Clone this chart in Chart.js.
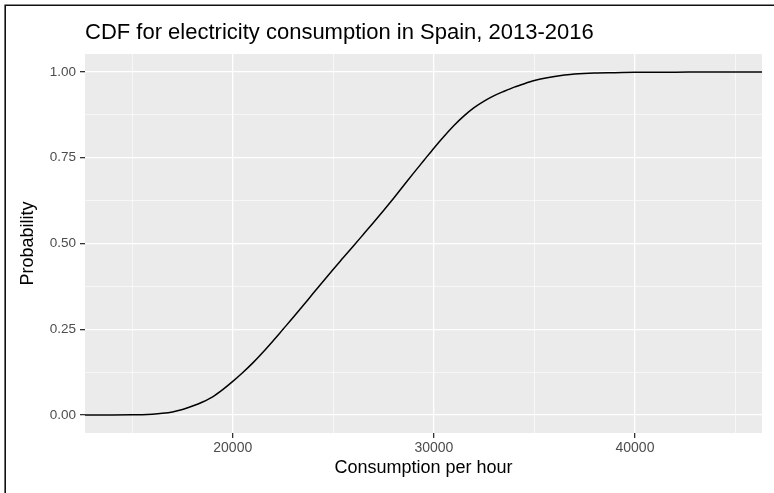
<!DOCTYPE html>
<html>
<head>
<meta charset="utf-8">
<script src="https://cdn.jsdelivr.net/npm/chart.js@4.4.0/dist/chart.umd.min.js"></script>
<style>
  html, body { margin: 0; padding: 0; background: #ffffff; }
  #wrap { width: 774px; height: 493px; position: relative; }
</style>
</head>
<body>
<div id="wrap"><canvas id="cdf_chart" width="774" height="493"></canvas></div>
<script>
const consumption = [
  12652, 14000, 15000, 15500, 16000, 16500, 17000, 17500, 18000, 18500,
  19000, 19500, 20000, 20500, 21000, 21500, 22000, 22500, 23000, 23500,
  24000, 24500, 25000, 25500, 26000, 26500, 27000, 27500, 28000, 28500,
  29000, 29500, 30000, 30500, 31000, 31500, 32000, 32500, 33000, 33500,
  34000, 34500, 35000, 35500, 36000, 36500, 37000, 38000, 39000, 40000,
  42000, 44000, 46318
];
const probability = [
  0, 0, 0.0004, 0.001, 0.0025, 0.005, 0.009, 0.016, 0.026, 0.038,
  0.053, 0.074, 0.098, 0.124, 0.152, 0.183, 0.216, 0.250, 0.284, 0.319,
  0.355, 0.390, 0.425, 0.459, 0.493, 0.527, 0.561, 0.596, 0.632, 0.669,
  0.706, 0.742, 0.778, 0.812, 0.844, 0.872, 0.896, 0.915, 0.931, 0.944,
  0.956, 0.966, 0.975, 0.982, 0.987, 0.991, 0.994, 0.997, 0.998, 0.999,
  0.9995, 1.0, 1.0
];
const xMajor = [20000, 30000, 40000];
const xMinor = [15000, 25000, 35000, 45000];
const yMajor = [0, 0.25, 0.5, 0.75, 1];
const yMinor = [0.125, 0.375, 0.625, 0.875];

const fontFamily = '"Liberation Sans", Arial, Helvetica, sans-serif';

const panelBg = {
    id: 'panelBg',
    beforeDraw(chart) {
        const { ctx, chartArea: a } = chart;
        ctx.save();
        ctx.fillStyle = '#ebebeb';
        ctx.fillRect(a.left, a.top, a.right - a.left, a.bottom - a.top);
        ctx.restore();
    },
    afterDraw(chart) {
        // frame from the screenshot (left and top edges)
        const ctx = chart.ctx;
        ctx.save();
        ctx.strokeStyle = '#111111';
        ctx.lineWidth = 1.6;
        ctx.beginPath();
        ctx.moveTo(5.2, 493);
        ctx.lineTo(5.2, 5.2);
        ctx.lineTo(774, 5.2);
        ctx.stroke();
        ctx.restore();
    }
};

const isMajor = (list, v) => list.some(m => Math.abs(m - v) < 1e-9);

const ctx = document.getElementById('cdf_chart').getContext('2d');
new Chart(ctx, {
    type: 'line',
    data: {
        datasets: [{
            data: consumption.map((c, i) => ({ x: c, y: probability[i] })),
            borderColor: '#000000',
            borderWidth: 1.5,
            pointRadius: 0,
            cubicInterpolationMode: 'monotone',
            fill: false
        }]
    },
    options: {
        responsive: false,
        animation: false,
        layout: { padding: { left: 0, right: 12, top: 0, bottom: 0 } },
        plugins: {
            legend: { display: false },
            tooltip: { enabled: false },
            title: {
                display: true,
                text: 'CDF for electricity consumption in Spain, 2013-2016',
                align: 'start',
                fullSize: false,
                color: '#000000',
                font: { family: fontFamily, size: 22, weight: 'normal' },
                padding: { top: 20, bottom: 7.6 }
            }
        },
        scales: {
            x: {
                type: 'linear',
                min: 12652,
                max: 46318,
                afterBuildTicks: (scale) => {
                    scale.ticks = xMinor.concat(xMajor).sort((a, b) => a - b).map(v => ({ value: v }));
                },
                afterFit: (scale) => { scale.height = 60; },
                ticks: {
                    autoSkip: false,
                    maxRotation: 0,
                    padding: 2,
                    color: '#4d4d4d',
                    font: { family: fontFamily, size: 14 },
                    callback: (v) => isMajor(xMajor, v) ? String(v) : ''
                },
                grid: {
                    color: '#ffffff',
                    lineWidth: (c) => isMajor(xMajor, c.tick.value) ? 1.3 : 0.6,
                    tickColor: (c) => isMajor(xMajor, c.tick.value) ? '#333333' : 'rgba(0,0,0,0)',
                    tickWidth: 1.3,
                    tickLength: 5
                },
                border: { display: false },
                title: {
                    display: true,
                    text: 'Consumption per hour',
                    color: '#000000',
                    font: { family: fontFamily, size: 18 },
                    padding: { top: 4, bottom: 14 }
                }
            },
            y: {
                type: 'linear',
                min: -0.0525,
                max: 1.0525,
                afterBuildTicks: (scale) => {
                    scale.ticks = yMinor.concat(yMajor).sort((a, b) => a - b).map(v => ({ value: v }));
                },
                afterFit: (scale) => { scale.width = 85; },
                ticks: {
                    autoSkip: false,
                    padding: 4,
                    color: '#4d4d4d',
                    font: { family: fontFamily, size: 13.5 },
                    callback: (v) => isMajor(yMajor, v) ? v.toFixed(2) : ''
                },
                grid: {
                    color: '#ffffff',
                    lineWidth: (c) => isMajor(yMajor, c.tick.value) ? 1.3 : 0.6,
                    tickColor: (c) => isMajor(yMajor, c.tick.value) ? '#333333' : 'rgba(0,0,0,0)',
                    tickWidth: 1.3,
                    tickLength: 5
                },
                border: { display: false },
                title: {
                    display: true,
                    text: 'Probability',
                    color: '#000000',
                    font: { family: fontFamily, size: 18 },
                    padding: { top: 17, bottom: 4 }
                }
            }
        }
    },
    plugins: [panelBg]
});
</script>
</body>
</html>
